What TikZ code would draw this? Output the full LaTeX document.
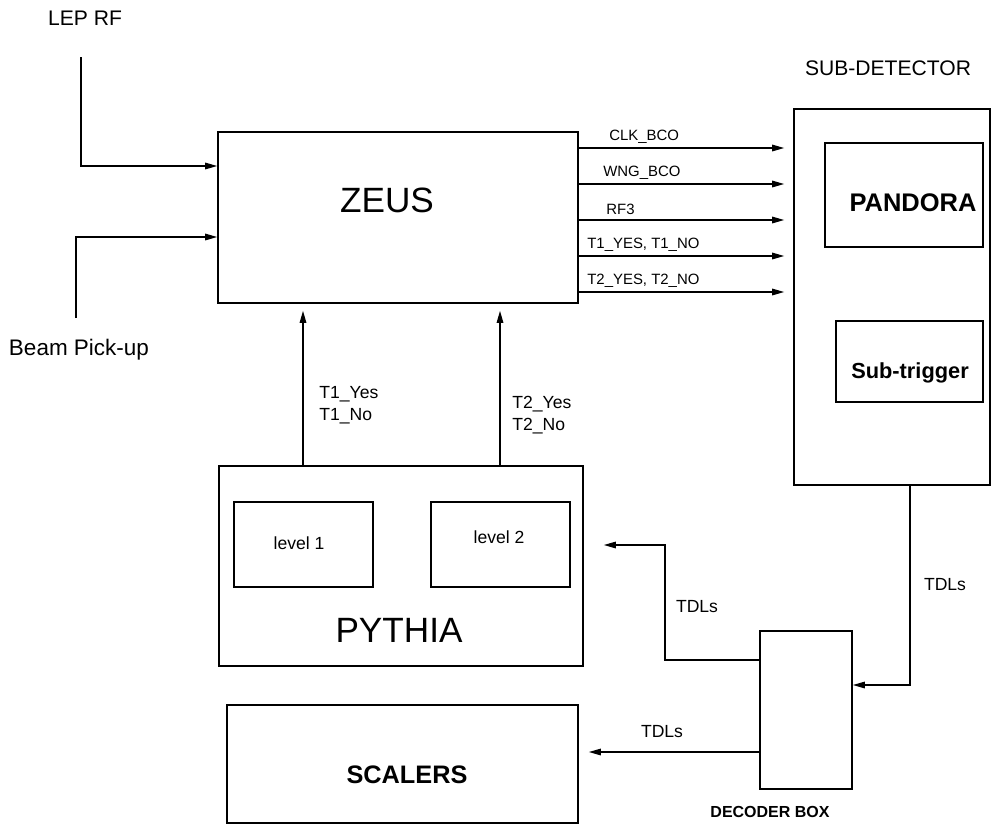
\documentclass[tikz,border=0pt]{standalone}
\usepackage{fontspec}
\setmainfont{Liberation Sans}
\usetikzlibrary{arrows.meta,positioning}

\begin{document}
\begin{tikzpicture}[
      x=0.2mm, y=-0.2mm,
      box/.style={
          rectangle, draw, line width=0.9pt,
          inner sep=0pt
        },
      arr/.style={draw, line width=0.8pt, -{Triangle[length=2.4mm,width=1.3mm]}},
      big/.style={font=\fontsize{20}{24}\selectfont},
      mid/.style={font=\fontsize{12}{14}\selectfont},
      sig/.style={font=\fontsize{8.5}{10}\selectfont, anchor=west, inner sep=0pt},
      tdl/.style={font=\fontsize{10}{12.5}\selectfont, align=left, inner sep=0pt},
      bold/.style={font=\bfseries\fontsize{#1}{#1}\selectfont},
    ]
    \useasboundingbox (0,0) rectangle (1000,825);

    % main boxes
    \node[box, minimum width=72mm, minimum height=34.2mm] (zeus) at (398,217.5) {};
    \node[big] (zeuslbl) at (387,200) {ZEUS};
    \node[box, minimum width=39.2mm, minimum height=75.2mm] (subdet) at (892,297) {};
    \node[mid] (subdetlbl) at (888,68) {SUB-DETECTOR};
    \node[box, minimum width=31.6mm, minimum height=20.8mm] (pandora) at (904,195) {};
    \node[bold=14.5] (pandoralbl) at (913,203) {PANDORA};
    \node[box, minimum width=29.4mm, minimum height=16.2mm] (subtrig) at (909.5,361.5) {};
    \node[bold=12.4] (subtriglbl) at (910,373) {Sub-trigger};
    \node[box, minimum width=72.8mm, minimum height=40mm] (pythia) at (401,566) {};
    \node[big] (pythialbl) at (399,630) {PYTHIA};
    \node[box, minimum width=27.8mm, minimum height=17mm] (lvlone) at (303.5,544.5) {};
    \node[tdl] (lvlonelbl) at (299,543) {level 1};
    \node[box, minimum width=27.8mm, minimum height=17mm] (lvltwo) at (500.5,544.5) {};
    \node[tdl] (lvltwolbl) at (499,537) {level 2};
    \node[box, minimum width=70.2mm, minimum height=23.6mm] (scalers) at (402.5,764) {};
    \node[bold=14.4] (scalerslbl) at (407,775) {SCALERS};
    \node[box, minimum width=18.4mm, minimum height=31.6mm] (decoder) at (806,710) {};
    \node[bold=9.1] (decoderlbl) at (770,812) {DECODER BOX};

    % inputs to ZEUS
    \node[mid] (leprf) at (85,18) {LEP RF};
    \coordinate (leptop) at (81,57);
    \draw[arr] (leptop) |- (zeus.west |- 0,166);
    \node[font=\fontsize{12.8}{15}\selectfont] (beam) at (79,350) {Beam Pick-up};
    \coordinate (beambot) at (76,318);
    \draw[arr] (beambot) |- (zeus.west |- 0,237);

    % ZEUS to sub-detector
    \foreach \yy/\lx/\txt in {148/609/CLK\_BCO, 184/603/WNG\_BCO, 220/606/RF3,
        256/587/{T1\_YES, T1\_NO}, 292/587/{T2\_YES, T2\_NO}} {
        \draw[arr, shorten >=1.8mm] (zeus.east |- 0,\yy) -- (subdet.west |- 0,\yy);
        \node[sig] at (\lx,\yy-11) {\txt};
      }

    % PYTHIA to ZEUS
    \draw[arr, shorten >=1.4mm] (pythia.north -| 303,0) -- (zeus.south -| 303,0);
    \node[tdl, anchor=west] (tonelbl) at (319,405) {T1\_Yes\\T1\_No};
    \draw[arr, shorten >=1.4mm] (pythia.north -| 500,0) -- (zeus.south -| 500,0);
    \node[tdl, anchor=west] (ttwolbl) at (512,415) {T2\_Yes\\T2\_No};

    % TDLs
    \draw[arr] (subdet.south -| 910,0) |- (decoder.east |- 0,685);
    \node[tdl] (tdlright) at (945,585) {TDLs};
    \draw[arr, shorten >=4mm] (decoder.west |- 0,660) -| (665,545) -- (pythia.east |- 0,545);
    \node[tdl] (tdlmid) at (697,607) {TDLs};
    \draw[arr, shorten >=2mm] (decoder.west |- 0,752) -- (scalers.east |- 0,752);
    \node[tdl] (tdllow) at (662,732) {TDLs};
  \end{tikzpicture}
\end{document}
